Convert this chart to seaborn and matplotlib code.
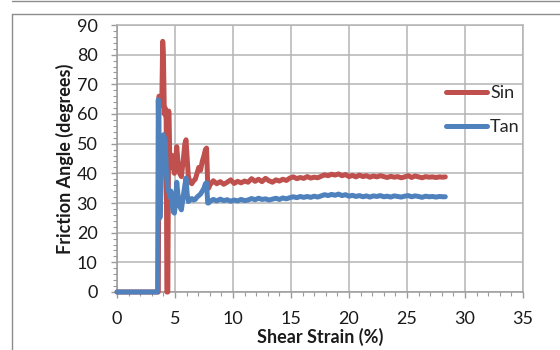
import pandas as pd
import matplotlib
matplotlib.use("Agg")
import matplotlib.pyplot as plt
from matplotlib.lines import Line2D
from matplotlib.ticker import MultipleLocator
import seaborn as sns

# shear strain (%) shared by both series
strain = [0, 3.50, 3.56, 3.62, 3.70, 3.78, 3.86, 3.94, 4.00, 4.08, 4.16, 4.24,
          4.30, 4.38, 4.46, 4.55, 4.65, 4.75, 4.85, 4.95, 5.05, 5.15, 5.25,
          5.40, 5.55, 5.70, 5.85, 5.95, 6.05, 6.15, 6.30, 6.45, 6.60, 6.75,
          6.90, 7.05, 7.20, 7.35, 7.50, 7.62, 7.72, 7.82, 7.90, 8.00,
          8.3, 8.6, 8.9, 9.2, 9.5, 9.8, 10.1, 10.4, 10.7, 11.0, 11.3, 11.6,
          11.9, 12.2, 12.5, 12.8, 13.1, 13.4, 13.7, 14.0, 14.3, 14.6, 14.9,
          15.2, 15.5, 15.8, 16.1, 16.4, 16.7, 17.0, 17.3, 17.6, 17.9, 18.2,
          18.5, 18.8, 19.1, 19.4, 19.7, 20.0, 20.3, 20.6, 20.9, 21.2, 21.5,
          21.8, 22.1, 22.4, 22.7, 23.0, 23.3, 23.6, 23.9, 24.2, 24.5, 24.8,
          25.1, 25.4, 25.7, 26.0, 26.3, 26.6, 26.9, 27.2, 27.5, 27.8, 28.1, 28.3]

sin_angle = [0, 0, 0, 66, 65, 64, 63, 84.5, 80, 60, 62, 58,
             0, 0, 61, 45, 42, 46, 42, 40, 44, 49, 44,
             40, 38.9, 44, 50, 51.3, 45, 39, 37, 36.5, 37.5, 38,
             40, 42, 41, 44, 46, 48, 48.5, 36, 35, 36,
             37.5, 36.5, 37.2, 36.3, 37.0, 37.8, 36.6, 37.3, 36.8, 37.4, 37.0, 38.2,
             37.3, 38.0, 37.2, 38.3, 37.5, 37.0, 37.8, 37.4, 38.0, 37.6, 38.4,
             38.8, 38.2, 38.6, 38.3, 38.9, 38.4, 38.7, 38.5, 39.0, 39.5, 39.2,
             39.7, 39.4, 39.8, 39.2, 39.6, 38.9, 39.3, 38.8, 39.4, 38.9, 39.2,
             38.7, 39.1, 38.8, 39.2, 38.9, 38.6, 39.0, 38.7, 38.9, 38.5, 38.8,
             39.2, 38.6, 39.1, 38.8, 38.5, 38.9, 38.7, 38.8, 38.6, 38.8, 38.7, 38.8]

tan_angle = [0, 0, 64.8, 45, 25, 33, 42, 50, 53, 52, 51, 42,
             38, 35, 34, 32, 34, 30, 27, 26.6, 30, 37, 33,
             29, 27.7, 32, 36, 38.4, 33, 30.5, 31, 31.5, 31, 31.2,
             32, 32.5, 33, 34, 35, 36.5, 36.8, 30, 30, 30.5,
             31.2, 30.7, 31.3, 30.8, 31.1, 30.6, 31.0, 30.7, 31.2, 30.8, 31.0, 31.5,
             31.1, 31.6, 31.2, 31.4, 31.0, 31.3, 31.6, 31.2, 31.7, 31.4, 31.8,
             32.1, 31.8, 32.2, 31.9, 32.2, 31.9, 32.3, 32.0, 32.4, 32.8, 32.5,
             32.9, 32.6, 33.0, 32.5, 32.8, 32.3, 32.6, 32.2, 32.5, 32.1, 32.4,
             32.0, 32.4, 32.2, 32.5, 32.1, 32.3, 32.0, 32.4, 32.2, 32.0, 32.3,
             32.5, 32.1, 32.4, 32.2, 31.9, 32.3, 32.1, 32.2, 32.0, 32.2, 32.1, 32.1]

series_names = ["Sin", "Tan"]
colors = ["#C0504D", "#4F81BD"]

df = pd.concat([
    pd.DataFrame({"strain": strain, "angle": sin_angle, "series": "Sin"}),
    pd.DataFrame({"strain": strain, "angle": tan_angle, "series": "Tan"}),
])

sns.set_style("white")
plt.rcParams["font.family"] = ["Lato", "DejaVu Sans"]
plt.rcParams["lines.solid_capstyle"] = "round"
plt.rcParams["lines.solid_joinstyle"] = "round"

fig = plt.figure(figsize=(5.6, 3.5), dpi=100)
ax = fig.add_axes([117 / 560, 1 - 292 / 350, 406 / 560, 267 / 350])

sns.lineplot(data=df, x="strain", y="angle", hue="series", hue_order=series_names,
             palette=colors, estimator=None, sort=False, linewidth=3.6, ax=ax,
             clip_on=False, zorder=3)

ax.set_xlim(0, 35)
ax.set_ylim(0, 90)
ax.xaxis.set_major_locator(MultipleLocator(5))
ax.xaxis.set_minor_locator(MultipleLocator(1))
ax.yaxis.set_major_locator(MultipleLocator(10))
ax.yaxis.set_minor_locator(MultipleLocator(2))

grid_c = "#b4b4b4"
ax.grid(True, which="major", color=grid_c, linewidth=1.1)
for s in ["top", "right"]:
    ax.spines[s].set_visible(True)
    ax.spines[s].set_color(grid_c)
    ax.spines[s].set_linewidth(1.1)
for s in ["left", "bottom"]:
    ax.spines[s].set_color("#9a9a9a")
    ax.spines[s].set_linewidth(1.1)

ax.tick_params(which="major", direction="out", length=4, width=1, color="#9a9a9a",
               labelsize=13, labelcolor="#1a1a1a", bottom=True, left=True)
ax.tick_params(which="minor", direction="out", length=3, width=0.8, color="#9a9a9a",
               bottom=True, left=True)
ax.tick_params(axis="y", which="major", pad=10)
ax.tick_params(axis="x", which="major", pad=10)

ax.set_xlabel("Shear Strain (%)", fontsize=13, fontweight="bold", color="#1a1a1a", labelpad=0)
ax.set_ylabel("Friction Angle (degrees)", fontsize=13, fontweight="bold", color="#1a1a1a", labelpad=2)

ax.legend(loc="upper left", bbox_to_anchor=(0.81, 0.775), frameon=False, fontsize=13,
          handlelength=2.3, handletextpad=0.15, labelspacing=1.0, borderpad=0,
          borderaxespad=0, title=None)

# outer chart frames
frame_c = "#8c8c8c"
fig.add_artist(Line2D([12 / 560, 1], [1 - 1 / 350, 1 - 1 / 350], transform=fig.transFigure,
                      color=frame_c, linewidth=1))
fig.add_artist(Line2D([12 / 560, 1], [1 - 14 / 350, 1 - 14 / 350], transform=fig.transFigure,
                      color=frame_c, linewidth=1))
fig.add_artist(Line2D([12 / 560, 12 / 560], [0, 1 - 14 / 350], transform=fig.transFigure,
                      color=frame_c, linewidth=1))

fig.savefig("out.png", dpi=100)
